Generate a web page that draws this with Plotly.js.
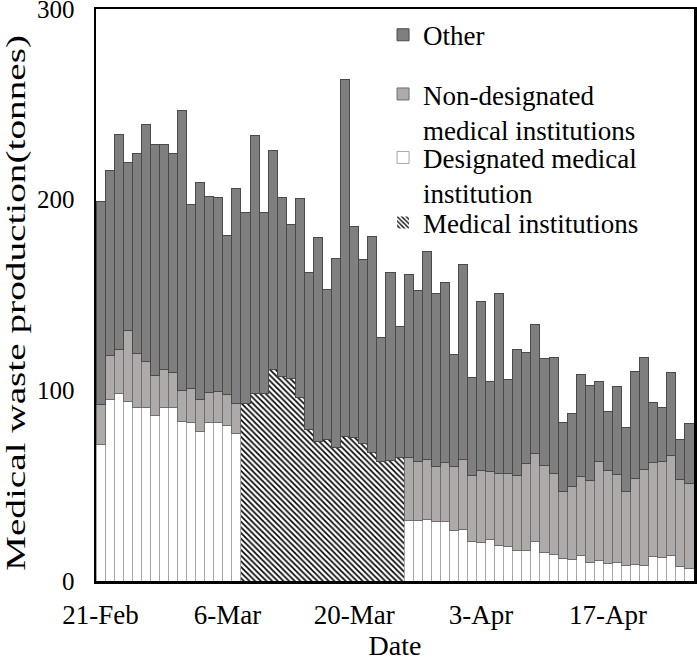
<!DOCTYPE html>
<html>
<head>
<meta charset="utf-8">
<script src="https://cdn.plot.ly/plotly-3.0.1.min.js"></script>
<style>
  html, body { margin: 0; padding: 0; background: #fff; }
  #chart { width: 697px; height: 665px; }
</style>
</head>
<body>
<div id="chart"></div>
<script>
// Dates (one bar per day)
var dates = [
  "21-Feb","22-Feb","23-Feb","24-Feb","25-Feb","26-Feb","27-Feb","28-Feb","29-Feb",
  "1-Mar","2-Mar","3-Mar","4-Mar","5-Mar","6-Mar","7-Mar","8-Mar","9-Mar","10-Mar",
  "11-Mar","12-Mar","13-Mar","14-Mar","15-Mar","16-Mar","17-Mar","18-Mar","19-Mar","20-Mar",
  "21-Mar","22-Mar","23-Mar","24-Mar","25-Mar","26-Mar","27-Mar","28-Mar","29-Mar","30-Mar","31-Mar",
  "1-Apr","2-Apr","3-Apr","4-Apr","5-Apr","6-Apr","7-Apr","8-Apr","9-Apr","10-Apr",
  "11-Apr","12-Apr","13-Apr","14-Apr","15-Apr","16-Apr","17-Apr","18-Apr","19-Apr","20-Apr",
  "21-Apr","22-Apr","23-Apr","24-Apr","25-Apr","26-Apr"
];

var tickLabels = ["21-Feb","6-Mar","20-Mar","3-Apr","17-Apr"];
var yTicks = [0, 100, 200, 300];

// Designated medical institution (tonnes); null where only the combined figure exists
var designated = [
  71.5,95.2,98.3,94.3,91.2,91.2,86.7,90.8,90.8,83.7,83.2,78.5,83.2,83.2,81.7,77.6,
  null,null,null,null,null,null,null,null,null,null,null,null,null,null,null,null,null,null,
  31.9,31.9,32.4,31.0,31.0,26.3,27.0,20.6,20.1,21.8,18.8,18.3,16.2,16.2,20.6,14.8,
  14.0,11.9,11.3,13.6,9.6,10.5,9.0,9.9,8.0,8.7,8.0,12.7,12.2,13.2,7.5,6.6
];

// Non-designated medical institutions (tonnes)
var nonDesignated = [
  20.9,23.0,23.0,37.1,28.0,24.0,21.0,20.2,18.7,16.3,17.9,16.8,15.8,16.2,16.3,15.7,
  null,null,null,null,null,null,null,null,null,null,null,null,null,null,null,null,null,null,
  32.8,31.0,31.3,29.3,30.9,34.0,36.7,34.5,37.9,35.4,37.5,38.0,39.2,45.4,46.2,45.9,
  42.3,35.3,38.5,41.3,43.2,52.4,49.2,45.9,38.7,45.3,50.7,49.7,50.7,52.5,45.7,44.5
];

// Medical institutions, combined (tonnes)
var medical = [
  null,null,null,null,null,null,null,null,null,null,null,null,null,null,null,null,
  92.9,98.2,98.2,110.7,107.2,106.2,96.4,79.3,73.4,74.1,70.2,75.8,75.1,72.3,67.4,62.6,63.3,64.7,
  null,null,null,null,null,null,null,null,null,null,null,null,null,null,null,null,
  null,null,null,null,null,null,null,null,null,null,null,null,null,null,null,null
];

// Other (tonnes)
var other = [
  106.9,97.3,112.9,88.1,105.2,124.0,121.3,118.0,114.9,146.7,96.4,113.9,102.7,101.6,83.3,112.6,
  100.6,135.6,95.3,115.3,94.2,81.0,104.1,82.7,106.5,79.0,99.1,187.1,110.6,96.3,113.4,65.2,98.3,69.0,
  95.9,89.7,108.9,90.7,94.8,58.3,102.3,51.7,88.4,47.6,94.7,49.3,65.8,58.2,67.6,55.9,
  61.0,35.8,38.2,53.2,49.6,41.9,30.7,46.2,33.7,55.8,58.3,31.4,27.9,43.8,20.9,31.4
];

var FONT = "Liberation Serif";

var traces = [
  {
    type: "bar", name: "Medical institutions", x: dates, y: medical, legend: "legend4",
    marker: {
      color: "#ffffff",
      pattern: { shape: "\\", fgcolor: "#000000", bgcolor: "#ffffff", size: 4, solidity: 0.4 },
      line: { width: 0 }
    }
  },
  {
    type: "bar", name: "Designated medical<br>institution", x: dates, y: designated, legend: "legend3",
    marker: { color: "#ffffff", line: { color: "#a6a6a6", width: 1 } }
  },
  {
    type: "bar", name: "Non-designated<br>medical institutions", x: dates, y: nonDesignated, legend: "legend2",
    marker: { color: "#aeaaaa", line: { color: "#6e6e6e", width: 1 } }
  },
  {
    type: "bar", name: "Other", x: dates, y: other, legend: "legend",
    marker: { color: "#7f7f7f", line: { color: "#4a4a4a", width: 1 } }
  }
];

function legendAt(y) {
  return {
    x: 0.48, y: y, xanchor: "left", yanchor: "top", valign: "top",
    bgcolor: "rgba(0,0,0,0)", borderwidth: 0,
    font: { family: FONT, size: 27, color: "#000000" },
    itemwidth: 30
  };
}

var layout = {
  width: 697, height: 665,
  margin: { l: 96, r: 3, t: 9, b: 84 },
  paper_bgcolor: "#ffffff", plot_bgcolor: "#ffffff",
  barmode: "stack", bargap: 0,
  font: { family: FONT, color: "#000000", size: 26 },
  showlegend: true,
  legend: legendAt(0.997),
  legend2: legendAt(0.8935),
  legend3: legendAt(0.7825),
  legend4: legendAt(0.669),
  xaxis: {
    type: "category", categoryorder: "array", categoryarray: dates,
    range: [-0.5, dates.length - 0.5],
    tickmode: "array", tickvals: tickLabels, ticktext: tickLabels,
    ticks: "", showgrid: false, zeroline: false,
    showline: true, linecolor: "#000000", linewidth: 2.5, mirror: true,
    tickfont: { family: FONT, size: 27, color: "#000000" },
    ticklabelstandoff: 8,
    title: { text: "Date", font: { family: FONT, size: 28, color: "#000000" }, standoff: 1 }
  },
  yaxis: {
    range: [0, 300], tickmode: "array", tickvals: yTicks,
    ticks: "", showgrid: false, zeroline: false,
    ticklabeloverflow: "allow",
    showline: true, linecolor: "#000000", linewidth: 2.5, mirror: true,
    tickfont: { family: FONT, size: 25, color: "#000000" },
    ticklabelstandoff: 14,
    title: { text: "Medical waste production(tonnes)", font: { family: FONT, size: 28, color: "#000000" }, standoff: 8 }
  }
};

Plotly.newPlot("chart", traces, layout, { displayModeBar: false, staticPlot: true }).then(function (gd) {
  // the reference's axis title is drawn stretched along its baseline
  var t = gd.querySelector(".g-ytitle text");
  if (t) {
    t.setAttribute("textLength", "536");
    t.setAttribute("lengthAdjust", "spacingAndGlyphs");
    t.setAttribute("dx", "-8");
  }
});
</script>
</body>
</html>
